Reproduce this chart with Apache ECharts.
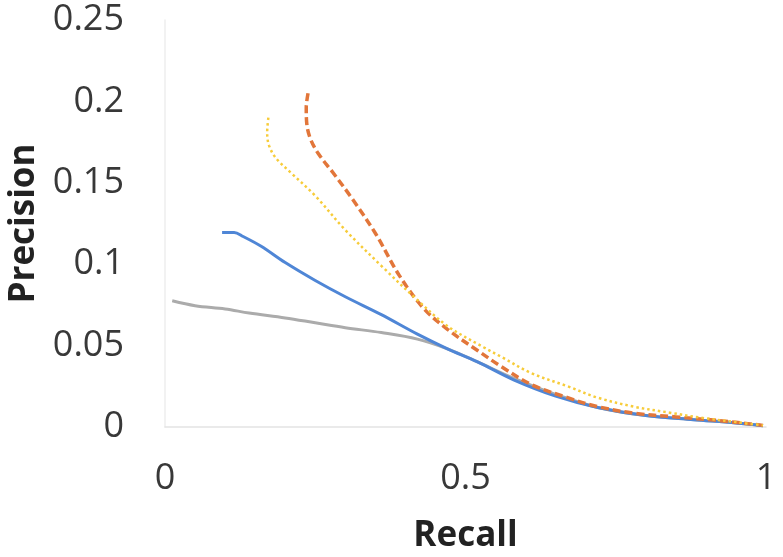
<!DOCTYPE html>
<html><head><meta charset="utf-8">
<script src="https://cdn.jsdelivr.net/npm/echarts@6/dist/echarts.min.js"></script>
<style>html,body{margin:0;padding:0;background:#fff}#c{width:783px;height:557px}</style>
</head><body><div id="c"></div>
<script>
const xTicks = [0, 0.5, 1];
const yTicks = [0, 0.05, 0.1, 0.15, 0.2, 0.25];

const grayRecall    = [0.012, 0.05, 0.10, 0.14, 0.20, 0.25, 0.30, 0.36, 0.42, 0.47, 0.52, 0.58, 0.65, 0.72, 0.80, 0.88, 0.95, 0.995];
const grayPrecision = [0.0775, 0.0745, 0.0725, 0.070, 0.067, 0.064, 0.061, 0.058, 0.054, 0.048, 0.040, 0.030, 0.020, 0.012, 0.007, 0.0045, 0.0025, 0.0008];

const blueRecall    = [0.095, 0.115, 0.13, 0.16, 0.20, 0.25, 0.30, 0.36, 0.42, 0.47, 0.52, 0.58, 0.65, 0.72, 0.80, 0.88, 0.95, 0.995];
const bluePrecision = [0.1195, 0.1195, 0.117, 0.111, 0.101, 0.090, 0.080, 0.069, 0.057, 0.048, 0.040, 0.029, 0.019, 0.012, 0.007, 0.0045, 0.0025, 0.0008];

const orangeRecall    = [0.238, 0.235, 0.236, 0.242, 0.255, 0.28, 0.31, 0.35, 0.39, 0.43, 0.47, 0.52, 0.56, 0.61, 0.67, 0.72, 0.78, 0.85, 0.92, 0.995];
const orangePrecision = [0.205, 0.196, 0.186, 0.177, 0.168, 0.156, 0.141, 0.119, 0.093, 0.073, 0.060, 0.047, 0.037, 0.026, 0.018, 0.0125, 0.0085, 0.0062, 0.004, 0.001];

const yellowRecall    = [0.172, 0.170, 0.173, 0.185, 0.21, 0.25, 0.30, 0.36, 0.42, 0.47, 0.53, 0.56, 0.61, 0.67, 0.72, 0.78, 0.84, 0.89, 0.95, 0.995];
const yellowPrecision = [0.190, 0.181, 0.173, 0.165, 0.156, 0.142, 0.121, 0.099, 0.078, 0.062, 0.049, 0.043, 0.033, 0.025, 0.018, 0.0125, 0.0088, 0.0058, 0.003, 0.001];

const zip = (a, b) => a.map((v, i) => [v, b[i]]);
const font = 'Open Sans';

const chart = echarts.init(document.getElementById('c'));
chart.setOption({
  animation: false,
  backgroundColor: '#fff',
  grid: { left: 165, right: 17, top: 20, bottom: 130, containLabel: false, outerBoundsMode: 'none' },
  xAxis: {
    type: 'value', min: xTicks[0], max: xTicks[xTicks.length - 1], interval: 0.5,
    name: 'Recall', nameLocation: 'middle', nameGap: 92,
    nameTextStyle: { fontFamily: font, fontWeight: 'bold', fontSize: 35, color: '#222' },
    axisLine: { show: true, lineStyle: { color: '#e4e4e4', width: 1.5 } },
    axisTick: { show: false },
    splitLine: { show: false },
    axisLabel: { fontFamily: font, fontSize: 36, color: '#383838', margin: 34,
      formatter: v => String(v) }
  },
  yAxis: {
    type: 'value', min: yTicks[0], max: yTicks[yTicks.length - 1], interval: 0.05,
    name: 'Precision', nameLocation: 'middle', nameGap: 123, nameRotate: 90,
    nameTextStyle: { fontFamily: font, fontWeight: 'bold', fontSize: 35, color: '#222' },
    axisLine: { show: true, lineStyle: { color: '#eeeeee', width: 1.5 } },
    axisTick: { show: false },
    splitLine: { show: false },
    axisLabel: { fontFamily: font, fontSize: 36, color: '#383838', margin: 41,
      formatter: v => String(+v.toFixed(2)) }
  },
  series: [
    { type: 'line', data: zip(grayRecall, grayPrecision), smooth: 0.35, showSymbol: false,
      lineStyle: { color: '#ABABAB', width: 3 } },
    { type: 'line', data: zip(blueRecall, bluePrecision), smooth: 0.35, showSymbol: false,
      lineStyle: { color: '#4F86D6', width: 3 } },
    { type: 'line', data: zip(orangeRecall, orangePrecision), smooth: 0.35, showSymbol: false,
      lineStyle: { color: '#E2763A', width: 3.5, type: [8, 4] } },
    { type: 'line', data: zip(yellowRecall, yellowPrecision), smooth: 0.35, showSymbol: false,
      lineStyle: { color: '#F7CC3A', width: 2.5, type: [2.5, 3] } }
  ]
});
</script></body></html>
